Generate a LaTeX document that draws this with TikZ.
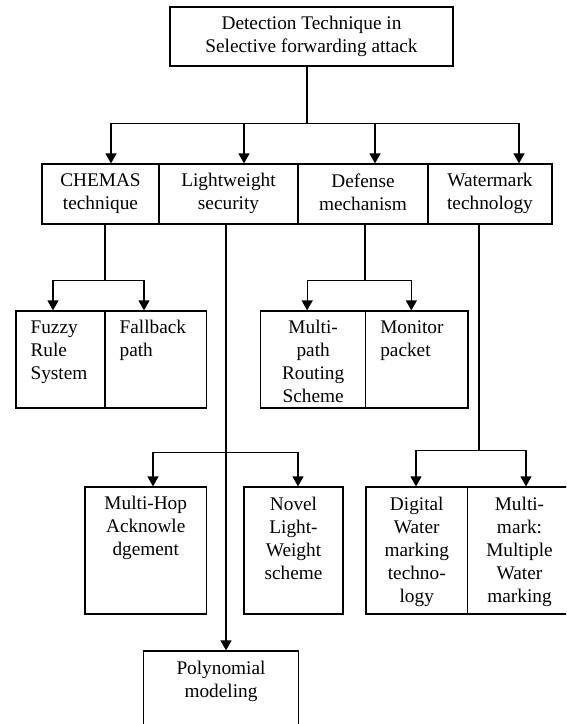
\documentclass[tikz,border=0pt]{standalone}
\usepackage{fontspec}
\setmainfont{Liberation Serif}
\usetikzlibrary{arrows.meta}
\tikzset{
  every node/.append style={font=\fontsize{19.3}{23}\selectfont},
  box/.style={draw, line width=1.2pt, inner sep=0pt},
  txt/.style={anchor=north, align=center, inner sep=0pt, yshift=-10pt},
  txtl/.style={anchor=north west, align=left, inner sep=0pt, xshift=15pt, yshift=-10pt},
  ln/.style={line width=1.2pt},
  arr/.style={-{Triangle[length=10pt,width=11pt]}, line width=1.2pt},
}
\begin{document}
\begin{tikzpicture}[x=1pt,y=-1pt]
  \useasboundingbox (0,0) rectangle (566,724);
  \clip (0,0) rectangle (566,724);
  % root
  \node[box, minimum width=283pt, minimum height=59pt,
        label={[txt]north:{Detection Technique in\\Selective forwarding attack}}] (top) at (311.5,36.5) {};
  % first level
  \foreach \nm/\x/\w/\txt in
     {chem/100.5/117/{CHEMAS\\technique},
      light/228.5/139/{Lightweight\\security},
      def/363/130/{Defense\\mechanism},
      water/490/124/{Watermark\\technology}}{
     \node[box, minimum width=\w pt, minimum height=60pt,
           label={[txt]north:{\txt}}] (\nm) at (\x,194) {};
  }
  % second level
  \node[box, minimum width=89pt, minimum height=97pt,
        label={[txtl]north west:{Fuzzy\\Rule\\System}}] (fuzzy) at (60.5,359.5) {};
  \node[box, minimum width=101.5pt, minimum height=97pt,
        label={[txtl]north west:{Fallback\\path}}] (fallb) at (155.75,359.5) {};
  \node[box, minimum width=105.1pt, minimum height=97pt,
        label={[txt]north:{Multi-\\path\\Routing\\Scheme}}] (mpath) at (313.15,359.5) {};
  \node[box, minimum width=102.3pt, minimum height=97pt,
        label={[txtl]north west:{Monitor\\packet}}] (monit) at (416.85,359.5) {};
  % third level
  \node[box, minimum width=121.5pt, minimum height=127pt,
        label={[txt]north:{Multi-Hop\\Acknowle\\dgement}}] (mhop) at (145.75,550.5) {};
  \node[box, minimum width=99pt, minimum height=127pt,
        label={[txt]north:{Novel\\Light-\\Weight\\scheme}}] (novel) at (293.5,550.5) {};
  \node[box, minimum width=101.5pt, minimum height=127pt,
        label={[txt]north:{Digital\\Water\\marking\\techno-\\logy}}] (digit) at (416.75,550.5) {};
  \node[box, minimum width=104pt, minimum height=127pt,
        label={[txt]north:{Multi-\\mark:\\Multiple\\Water\\marking}}] (mmark) at (519.5,550.5) {};
  \node[box, minimum width=155pt, minimum height=98pt,
        label={[txt]north:{Polynomial\\modeling}}] (poly) at (221,700) {};
  % junctions
  \path ([xshift=-4.5pt]top.south) ++(0,57) coordinate (hub);
  \path ([xshift=4.5pt]chem.south) ++(0,56) coordinate (chub);
  \path ([xshift=2pt]def.south) ++(0,56) coordinate (dhub);
  \path ([xshift=-2.5pt]light.south) ++(0,228) coordinate (lhub);
  \path ([xshift=-11pt]water.south) ++(0,226) coordinate (whub);
  % connectors
  \draw[ln] ([xshift=-4.5pt]top.south) -- (hub);
  \draw[arr] (hub) -| ([xshift=10.5pt]chem.north);
  \draw[arr] (hub) -| ([xshift=15.5pt]light.north);
  \draw[arr] (hub) -| ([xshift=12pt]def.north);
  \draw[arr] (hub) -| ([xshift=29pt]water.north);
  \draw[ln] ([xshift=4.5pt]chem.south) -- (chub);
  \draw[arr] (chub) -| ([xshift=-7.5pt]fuzzy.north);
  \draw[arr] (chub) -| ([xshift=-11.75pt]fallb.north);
  \draw[ln] ([xshift=2pt]def.south) -- (dhub);
  \draw[arr] (dhub) -| ([xshift=-6pt]mpath.north);
  \draw[arr] (dhub) -| ([xshift=-5.5pt]monit.north);
  \draw[arr] ([xshift=-2.5pt]light.south) -- ([xshift=-2.5pt]light.south |- poly.north);
  \draw[arr] (lhub) -| ([xshift=7.25pt]mhop.north);
  \draw[arr] (lhub) -| ([xshift=4.5pt]novel.north);
  \draw[ln] ([xshift=-11pt]water.south) -- (whub);
  \draw[arr] (whub) -| ([xshift=-0.75pt]digit.north);
  \draw[arr] (whub) -| ([xshift=6.5pt]mmark.north);
\end{tikzpicture}
\end{document}
